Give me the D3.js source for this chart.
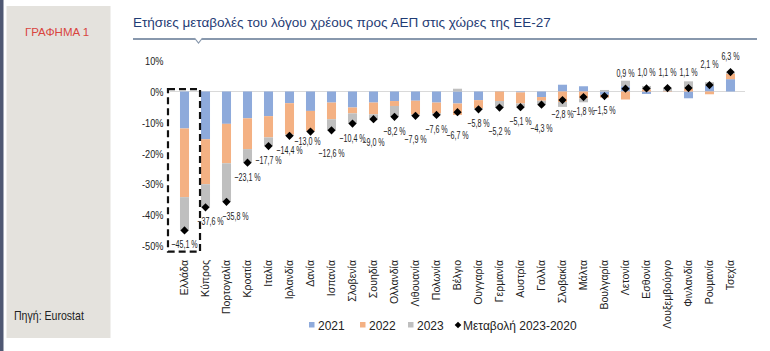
<!DOCTYPE html>
<html><head><meta charset="utf-8">
<script src="https://cdn.jsdelivr.net/npm/d3@7"></script>
<style>
html,body{margin:0;padding:0;background:#fff;}
svg{display:block;}
text{font-family:"Liberation Sans",Arial,sans-serif;}
</style></head>
<body><svg id="c" width="770" height="351"></svg>
<script>
const countries = ["Ελλάδα","Κύπρος","Πορτογαλία","Κροατία","Ιταλία","Ιρλανδία","Δανία","Ισπανία","Σλοβενία","Σουηδία","Ολλανδία","Λιθουανία","Πολωνία","Βέλγιο","Ουγγαρία","Γερμανία","Αυστρία","Γαλλία","Σλοβακία","Μάλτα","Βουλγαρία","Λετονία","Εσθονία","Λουξεμβούργο","Φινλανδία","Ρουμανία","Τσεχία"];
const y2021 = [-12.0,-15.5,-10.5,-8.7,-8.0,-3.8,-6.3,-3.6,-5.2,-3.6,-3.1,-3.0,-3.6,-3.9,-2.8,0.1,-0.3,-1.8,2.2,1.7,-1.1,1.7,-0.8,-0.1,-2.2,1.8,4.0];
const y2022 = [-22.3,-14.6,-12.8,-10.0,-6.9,-10.2,-6.5,-5.4,-1.9,-3.8,-1.6,-4.5,-3.5,-3.7,-2.6,-3.1,-3.6,-1.2,-3.4,-2.3,-0.9,-2.6,0.7,0.2,1.0,-0.9,1.8];
const y2023 = [-10.8,-7.5,-12.5,-4.4,-2.8,-0.4,-0.2,-3.6,-3.3,-1.6,-3.5,-0.4,-0.5,0.9,-0.4,-2.2,-1.2,-1.3,-1.6,-1.2,0.5,1.8,1.1,1.0,2.3,1.2,0.5];
const change = [-45.1,-37.6,-35.8,-23.1,-17.7,-14.4,-13.0,-12.6,-10.4,-9.0,-8.2,-7.9,-7.6,-6.7,-5.8,-5.2,-5.1,-4.3,-2.8,-1.8,-1.5,0.9,1.0,1.1,1.1,2.1,6.3];
const seriesNames = ["2021","2022","2023"];
const changeName = "Μεταβολή 2023-2020";
const yTicks = [10,0,-10,-20,-30,-40,-50];
const title = "Ετήσιες μεταβολές του λόγου χρέους προς ΑΕΠ στις χώρες της ΕΕ-27";
const tag = "ΓΡΑΦΗΜΑ 1";
const source = "Πηγή: Eurostat";

const colors = {"2021":"#8eaadb","2022":"#f4b183","2023":"#bfbfbf"};
const svg = d3.select("#c");

// side panel
svg.append("rect").attr("x",0).attr("y",0).attr("width",3.5).attr("height",351).attr("fill","#4f5873");
svg.append("rect").attr("x",6.5).attr("y",6).attr("width",104).attr("height",332).attr("fill","#e4e2dd");
svg.append("text").attr("x",57).attr("y",36).attr("text-anchor","middle")
  .attr("font-size",11.5).attr("fill","#d9453f").text(tag);
svg.append("text").attr("transform","translate(14,320) scale(0.88,1)")
  .attr("font-size",12).attr("fill","#222").text(source);

// title
svg.append("text").attr("x",133).attr("y",27)
  .attr("font-size",13.5).attr("fill","#1f3c75").text(title);
svg.append("line").attr("x1",133).attr("x2",757).attr("y1",39).attr("y2",39).attr("stroke","#8898ad").attr("stroke-width",2);
svg.append("path").attr("d","M194.5,38 L198.5,43 L202.5,38").attr("fill","#fff").attr("stroke","#8898ad").attr("stroke-width",1.2);

// scales
const x = d3.scaleBand().domain(countries).range([174,741]).paddingInner(0.57).paddingOuter(0.285);
const y = d3.scaleLinear().domain([-50,10]).range([245.5,60.7]);

// y axis labels
const yAxis = d3.axisLeft(y).tickValues(yTicks).tickSize(0).tickPadding(0).tickFormat(d=>d+"%");
const gy = svg.append("g").attr("transform","translate(163.5,0)").call(yAxis);
gy.select(".domain").remove();
gy.selectAll("text").attr("font-family","Liberation Sans, Arial, sans-serif").attr("font-size",11.5)
  .attr("fill","#222").attr("dy","0.35em").attr("transform","scale(0.8,1)");

// zero line
svg.append("line").attr("x1",170).attr("x2",745).attr("y1",y(0)).attr("y2",y(0)).attr("stroke","#d9d9d9").attr("stroke-width",1);

// stacked bars
const rows = countries.map((c,i)=>({country:c,"2021":y2021[i],"2022":y2022[i],"2023":y2023[i]}));
const stack = d3.stack().keys(seriesNames).offset(d3.stackOffsetDiverging)(rows);
svg.append("g").selectAll("g").data(stack).join("g").attr("fill",d=>colors[d.key])
  .selectAll("rect").data(d=>d).join("rect")
  .attr("x",d=>x(d.data.country)).attr("width",x.bandwidth())
  .attr("y",d=>y(Math.max(d[0],d[1]))).attr("height",d=>Math.abs(y(d[0])-y(d[1])));

// dashed highlight box around first category
const bx0 = x(countries[0]) - 12, bx1 = x(countries[0]) + x.bandwidth() + 11;
svg.append("rect").attr("x",bx0).attr("y",y(0.8)).attr("width",bx1-bx0).attr("height",y(-52)-y(0.8))
  .attr("fill","none").attr("stroke","#111").attr("stroke-width",2.2).attr("stroke-dasharray","7,4");

// diamonds
const cx = c => x(c) + x.bandwidth()/2;
svg.append("g").selectAll("path").data(countries).join("path")
  .attr("d",d3.symbol(d3.symbolSquare, 34))
  .attr("transform",(c,i)=>`translate(${cx(c)},${y(change[i])}) rotate(45)`)
  .attr("fill","#000");

// data labels
const fmt = v => d3.format(".1f")(v).replace(".",",") + " %";
svg.append("g").selectAll("text").data(countries).join("text")
  .attr("font-size",10.5).attr("fill","#222").attr("text-anchor","middle")
  .attr("transform",(c,i)=>{
     const v = change[i];
     const lx = cx(c) + (i===1?5:i===2?9:i===6?-3:0);
     let ly;
     if (v >= 0) ly = y(v) - (i===25?17:12);
     else ly = y(v) + 18 + ((i%2===1 && i>=7 && i<=17) ? 9 : 0) - (i===6?5:0);
     return `translate(${lx},${ly}) scale(0.68,1)`;
  })
  .text((c,i)=>fmt(change[i]));

// x labels
svg.append("g").selectAll("text").data(countries).join("text")
  .attr("font-size",10.5).attr("fill","#222").attr("text-anchor","end")
  .attr("transform",c=>`translate(${cx(c)+3.5},260) rotate(-90)`)
  .text(c=>c);

// legend
const legend = svg.append("g").attr("font-size",12).attr("fill","#222");
const items = [{k:"2021",x:309},{k:"2022",x:360},{k:"2023",x:408}];
items.forEach(it=>{
  legend.append("rect").attr("x",it.x).attr("y",322).attr("width",5.5).attr("height",5.5).attr("fill",colors[it.k]);
  legend.append("text").attr("x",it.x+9).attr("y",329.5).text(it.k);
});
legend.append("path").attr("d",d3.symbol(d3.symbolSquare,22)).attr("transform","translate(458,325) rotate(45)").attr("fill","#000");
legend.append("text").attr("x",463).attr("y",329.5).text(changeName);
</script></body></html>
